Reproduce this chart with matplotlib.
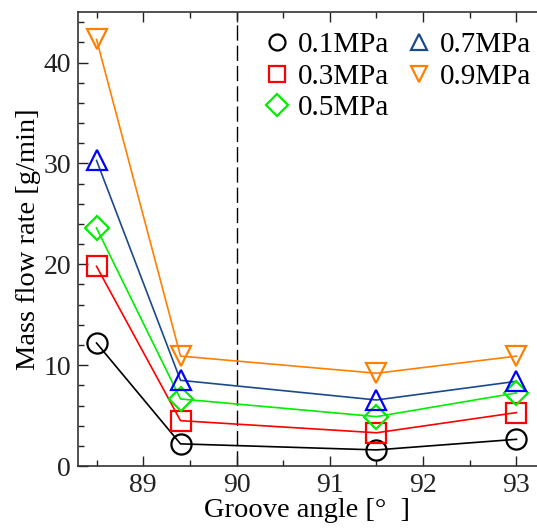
import matplotlib
matplotlib.use("Agg")
import matplotlib.pyplot as plt
from matplotlib.lines import Line2D
from matplotlib.ticker import MultipleLocator

plt.rcParams['font.family'] = ['Liberation Serif', 'DejaVu Serif']
plt.rcParams['mathtext.fontset'] = 'stix'

angles = [88.5, 89.4, 91.5, 93.0]
labels = ['0.1MPa', '0.3MPa', '0.5MPa', '0.7MPa', '0.9MPa']
flow_01 = [12.2, 2.2, 1.6, 2.65]
flow_03 = [19.8, 4.5, 3.3, 5.3]
flow_05 = [23.6, 6.65, 4.9, 7.25]
flow_07 = [30.3, 8.5, 6.55, 8.4]
flow_09 = [42.3, 10.9, 9.2, 10.9]
series = [flow_01, flow_03, flow_05, flow_07, flow_09]

line_colors = ['black', '#ff0000', '#00ee00', '#1a4a8a', '#ff8000']
marker_colors = ['black', '#ff0000', '#00ee00', '#0000ff', '#ff8000']
legend_colors = ['black', '#ff0000', '#00ee00', '#1a4a8a', '#ff8000']
markers = ['o', 's', 'D', '^', 'v']
msizes = [14.5, 14.5, 12.5, 15, 15]

fig = plt.figure(figsize=(5.37, 5.29), dpi=100)
ax = fig.add_axes([0.145, 0.119, 0.855, 0.858])

for y, lc, mc, m, ms in zip(series, line_colors, marker_colors, markers, msizes):
    ax.plot(angles, y, color=lc, lw=1.2, zorder=2)
    ax.plot(angles, y, linestyle='none', marker=m, markersize=ms,
            markerfacecolor='none', markeredgecolor=mc, markeredgewidth=1.6, zorder=3)

ax.axvline(90, color='black', lw=1.0, linestyle=(0, (11, 3.6)), zorder=1)

ax.set_xlim(88.3, 93.22)
ax.set_ylim(0, 45)
ax.xaxis.set_major_locator(MultipleLocator(1))
ax.xaxis.set_minor_locator(MultipleLocator(0.5))
ax.yaxis.set_major_locator(MultipleLocator(10))
ax.yaxis.set_minor_locator(MultipleLocator(2))
ax.tick_params(which='both', direction='in', top=True, right=False, labelsize=20, width=1.0, colors='#222222')
ax.tick_params(which='major', length=7, pad=5)
ax.tick_params(which='minor', length=4)
ax.spines['right'].set_visible(False)
for s in ['left', 'bottom', 'top']:
    ax.spines[s].set_linewidth(1.2)
    ax.spines[s].set_color('#333333')

ax.set_xlabel('Groove angle [°  ]', fontsize=20.5, labelpad=0)
ax.set_ylabel('Mass flow rate [g/min]', fontsize=20.5, labelpad=2)

handles = [Line2D([], [], linestyle='none', marker=m, markersize=11.5,
                  markerfacecolor='none', markeredgecolor=c, markeredgewidth=1.6)
           for m, c in zip(markers, legend_colors)]
ax.legend(handles, labels, ncol=2, frameon=False, fontsize=21,
          loc='upper right', bbox_to_anchor=(1.025, 0.995), handlelength=0.8,
          handletextpad=0.32, columnspacing=0.6, labelspacing=0.17, borderaxespad=0.2)

fig.savefig('out.png', dpi=100)
